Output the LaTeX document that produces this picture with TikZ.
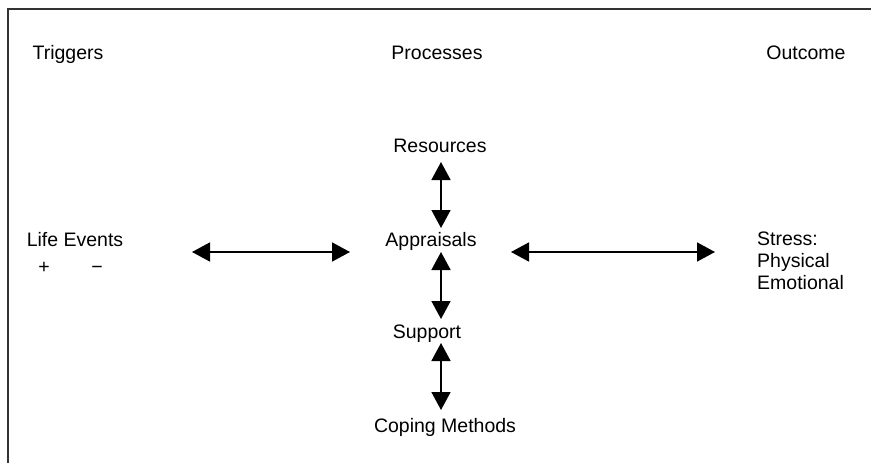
\documentclass[tikz,border=0pt]{standalone}
\usepackage{fontspec}
\setmainfont{Liberation Sans}
\usetikzlibrary{arrows.meta}

\begin{document}
\begin{tikzpicture}[x=1pt, y=-1pt,
    label/.style={inner sep=0pt, font=\fontsize{19.5}{22}\selectfont, anchor=base},
    twoway/.style={line width=1.7pt, {Triangle[length=18pt, width=19pt]}-{Triangle[length=18pt, width=19pt]}},
    frame/.style={line width=1.4pt, draw=black!80}]
  \useasboundingbox (0,0) rectangle (871,463);

  % open frame: top rule and left rule
  \draw[frame] (8,463) -- (8,9) -- (871,9);

  % column headings
  \node[label] (trig) at (68,59) {Triggers};
  \node[label] (proc) at (437,59) {Processes};
  \node[label] (outc) at (806,59) {Outcome};

  % triggers column
  \node[label] (life) at (75,246) {Life Events};
  \node[label] (plus) at (44,273) {+};
  \node[label] (minus) at (97,273) {−};

  % processes column
  \node[label] (res) at (440,152) {Resources};
  \node[label] (app) at (431,246) {Appraisals};
  \node[label] (sup) at (427,338) {Support};
  \node[label] (cop) at (445,432) {Coping Methods};

  % outcome column
  \node[label, anchor=base west] (str) at (757,245) {Stress:};
  \node[label, anchor=base west] (phy) at (757,267) {Physical};
  \node[label, anchor=base west] (emo) at (757,289) {Emotional};

  % arrow end points
  \coordinate (lifeR) at (192,252);
  \coordinate (appL)  at (350,252);
  \coordinate (appR)  at (511,252);
  \coordinate (strL)  at (715,252);
  \coordinate (resS)  at (441,162);
  \coordinate (appN)  at (441,228);
  \coordinate (appS)  at (441,252);
  \coordinate (supN)  at (441,319);
  \coordinate (supS)  at (441,343);
  \coordinate (copN)  at (441,410);

  % two-way links
  \draw[twoway] (lifeR) -- (appL);
  \draw[twoway] (appR) -- (strL);
  \draw[twoway] (resS) -- (appN);
  \draw[twoway] (appS) -- (supN);
  \draw[twoway] (supS) -- (copN);
\end{tikzpicture}
\end{document}
